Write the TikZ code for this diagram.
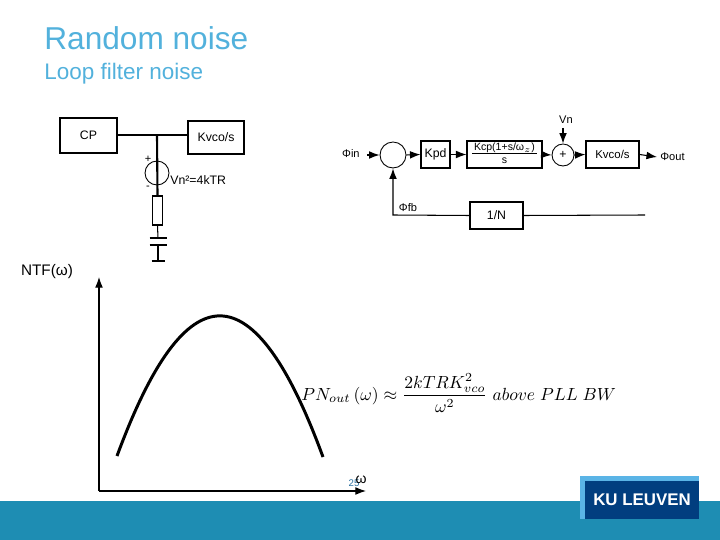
\documentclass[tikz,border=0pt]{standalone}
\usepackage{fontspec}
\setmainfont{Liberation Sans}
\usetikzlibrary{arrows.meta}
\definecolor{TitleBlue}{HTML}{52B1DC}
\definecolor{PageBlue}{HTML}{2A6F9F}
\definecolor{BandBlue}{HTML}{1E8DB3}
\definecolor{LogoLight}{HTML}{5AB4E6}
\definecolor{LogoDark}{HTML}{013E7F}
\tikzset{
  blockbox/.style={draw=black, line width=0.6pt, fill=white, inner sep=0pt, font=\fontsize{7}{8}\selectfont},
  sumcircle/.style={circle, draw=black, line width=0.5pt, fill=white, inner sep=0pt, font=\fontsize{7}{8}\selectfont},
  smalltext/.style={inner sep=0pt, font=\fontsize{6.3}{8}\selectfont},
  wire/.style={line width=0.6pt},
  flow/.style={line width=0.6pt, -{Latex[length=6pt,width=4.4pt]}},
}
\begin{document}
\begin{tikzpicture}[x=0.02cm, y=-0.02cm]

    \useasboundingbox (0,0) rectangle (720,540);

    % Footer band and logo
    \fill[BandBlue] (0,501) rectangle (720,540);
    \node[fill=LogoLight, minimum width=2.38cm, minimum height=0.86cm, inner sep=0pt] (Logo_Back) at (639.5,497.5) {};
    \node[fill=LogoDark, minimum width=2.28cm, minimum height=0.76cm, inner sep=0pt,
          text=white, font=\fontsize{9.6}{10}\selectfont\bfseries] (Logo_Front) at (642,500) {KU LEUVEN};

    % Titles
    \node[anchor=west, inner sep=0pt, text=TitleBlue, font=\fontsize{18}{20}\selectfont] (Main_Title) at (44,38) {Random noise};
    \node[anchor=west, inner sep=0pt, text=TitleBlue, font=\fontsize{12.8}{14}\selectfont] (Sub_Title) at (44,74) {Loop filter noise};

    % Loop filter circuit
    \node[blockbox, minimum width=1.14cm, minimum height=0.7cm] (CP_Box) at (88.5,135.5) {CP};
    \node[blockbox, minimum width=1.12cm, minimum height=0.66cm] (Kvco_Box) at (216,137.5) {Kvco/s};
    \coordinate (Wire_Junction) at (157,135);
    \node[blockbox, minimum width=0.2cm, minimum height=0.58cm] (Resistor_Box) at (157.5,210.5) {};
    \coordinate (Cap_Top) at (158,238);
    \coordinate (Cap_Bottom) at (158,245);
    \coordinate (Cap_Ground) at (158,261);

    \draw[wire] (CP_Box.east |- Wire_Junction) -- (Kvco_Box.west |- Wire_Junction);
    \node[circle, draw=black, line width=0.5pt, minimum size=0.48cm, inner sep=0pt] (Noise_Source) at (157,173) {};
    \draw[line width=1.2pt] (Wire_Junction) -- (Resistor_Box.north);
    \draw[wire] (Resistor_Box.south) -- (Cap_Top);
    \draw[line width=1pt] ([xshift=-0.17cm]Cap_Top) -- ([xshift=0.17cm]Cap_Top);
    \draw[wire] ([xshift=-0.17cm]Cap_Bottom) -- ([xshift=0.17cm]Cap_Bottom);
    \draw[wire] (Cap_Bottom) -- (Cap_Ground);
    \draw[wire] ([xshift=-0.13cm]Cap_Ground) -- ([xshift=0.13cm]Cap_Ground);

    \node[smalltext] (Plus_Label) at (148,159) {+};
    \node[smalltext] (Minus_Label) at (148,188) {-};
    \node[inner sep=0pt, anchor=west, font=\fontsize{7}{8}\selectfont] (Vn_Label) at (170,180.5) {Vn²=4kTR};

    % Phase domain model
    \node[sumcircle, minimum size=0.52cm] (Sum_Phase) at (393,155) {};
    \node[blockbox, minimum width=0.58cm, minimum height=0.54cm] (Kpd_Box) at (435.5,154.5) {Kpd};
    \node[blockbox, minimum width=1.5cm, minimum height=0.54cm, font=\fontsize{6}{7}\selectfont] (Kcp_Box) at (504.5,154.5)
        {\renewcommand{\arraystretch}{0.75}\begin{tabular}{@{\,}c@{\,}}Kcp(1+s/ω$_{z}$)\\\hline\noalign{\vskip 1.5pt}s\end{tabular}};
    \node[sumcircle, minimum size=0.44cm] (Sum_Noise) at (563,155) {+};
    \node[blockbox, minimum width=1.06cm, minimum height=0.54cm, font=\fontsize{6.5}{8}\selectfont] (Kvco_Loop) at (612.5,154.5) {Kvco/s};
    \node[blockbox, minimum width=1.06cm, minimum height=0.54cm] (Divider_Box) at (496.5,215.5) {1/N};

    \node[smalltext, anchor=east] (Phi_In) at (360,154) {Φin};
    \node[smalltext, anchor=west] (Phi_Out) at (660,157) {Φout};
    \node[smalltext] (Vn_Input) at (566,120) {Vn};
    \node[smalltext] (Phi_Fb) at (408,208) {Φfb};
    \coordinate (Phi_In_Start) at (367,155);
    \coordinate (Vn_Start) at (563,128);
    \coordinate (Fb_Corner) at (393,215);
    \coordinate (Fb_End) at (645,215);

    \draw[flow] (Phi_In_Start) -- (Sum_Phase.west);
    \draw[flow] (Sum_Phase.east) -- (Kpd_Box.west);
    \draw[flow] (Kpd_Box.east) -- (Kcp_Box.west);
    \draw[flow] (Kcp_Box.east) -- (Sum_Noise.west);
    \draw[flow] (Sum_Noise.east) -- (Kvco_Loop.west);
    \draw[flow] (Kvco_Loop.east) -- ([xshift=-0.06cm]Phi_Out.west);
    \draw[flow] (Vn_Start) -- (Sum_Noise.north);
    \draw[wire] (Fb_End) -- (Divider_Box.east);
    \draw[flow] (Divider_Box.west) -- (Fb_Corner) -- (Sum_Phase.south);

    % Noise transfer plot
    \coordinate (Axis_Origin) at (99,491);
    \coordinate (Axis_Top) at (99,277);
    \coordinate (Axis_Right) at (366,491);
    \draw[flow] (Axis_Origin) -- (Axis_Top);
    \draw[flow] (Axis_Origin) -- (Axis_Right);
    \draw[line width=1.7pt] (117,456) .. controls (186,269) and (254,269) .. (323,457);

    \node[inner sep=0pt, font=\fontsize{8.7}{10}\selectfont] (NTF_Label) at (47,272) {NTF(ω)};
    \node[inner sep=0pt, text=PageBlue, font=\fontsize{5.5}{6}\selectfont] (Page_Number) at (354,483) {25};
    \node[inner sep=0pt, font=\fontsize{8}{9}\selectfont] (Omega_Label) at (361,480) {ω};
    \node[inner sep=0pt, anchor=west, font=\fontsize{10.2}{12}\selectfont] (PN_Formula) at (301,393)
        {$\displaystyle PN_{out}\,(\omega)\approx\frac{2kTRK_{vco}^{2}}{\omega^{2}}\ above\ PLL\ BW$};

\end{tikzpicture}
\end{document}
